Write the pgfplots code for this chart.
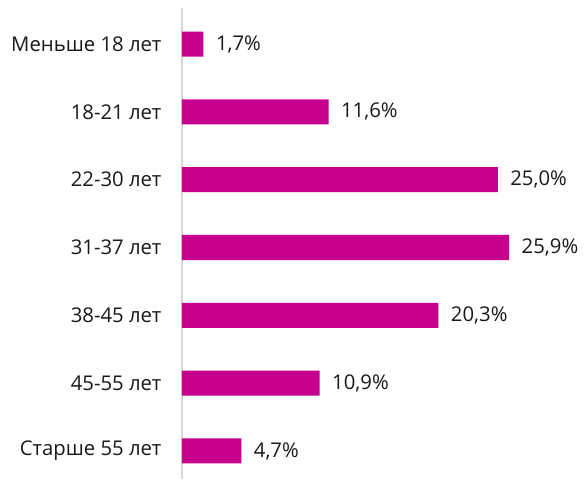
\documentclass[border=0pt]{standalone}
\usepackage{fontspec}
\setmainfont{Open Sans}
\usepackage{pgfplots}
\pgfplotsset{compat=1.18}
\definecolor{barmag}{RGB}{196,0,140}
\definecolor{axisgray}{RGB}{215,215,215}

\begin{document}
\begin{tikzpicture}
\path[use as bounding box] (-182pt,0) rectangle (403pt,479pt);
\begin{axis}[
  at={(0,0)}, anchor=south west,
  scale only axis,
  width=403pt, height=471pt,
  xbar, bar width=25pt, bar shift=0pt,
  xmin=0, xmax=31.9,
  ymin=0.587, ymax=7.531,
  axis x line=none,
  axis y line*=left,
  y axis line style={axisgray, line width=1.6pt},
  major tick length=0pt,
  ytick={1,2,3,4,5,6,7},
  yticklabels={Старше 55 лет,45-55 лет,38-45 лет,31-37 лет,22-30 лет,18-21 лет,Меньше 18 лет},
  yticklabel style={font=\fontsize{20.3}{24}\selectfont, xshift=-17pt, text=black!90},
  /pgf/number format/assume math mode=true,
  nodes near coords={\pgfmathprintnumber[fixed,fixed zerofill,precision=1,use comma]{\pgfplotspointmeta}\%},
  nodes near coords align={horizontal},
  nodes near coords style={font=\fontsize{20.3}{24}\selectfont, anchor=west, xshift=9pt, text=black!90},
  clip=false,
]
\addplot[fill=barmag, draw=none] coordinates {
  (4.7,1) (10.9,2) (20.3,3) (25.9,4) (25.0,5) (11.6,6) (1.7,7)};
\end{axis}
\end{tikzpicture}
\end{document}
